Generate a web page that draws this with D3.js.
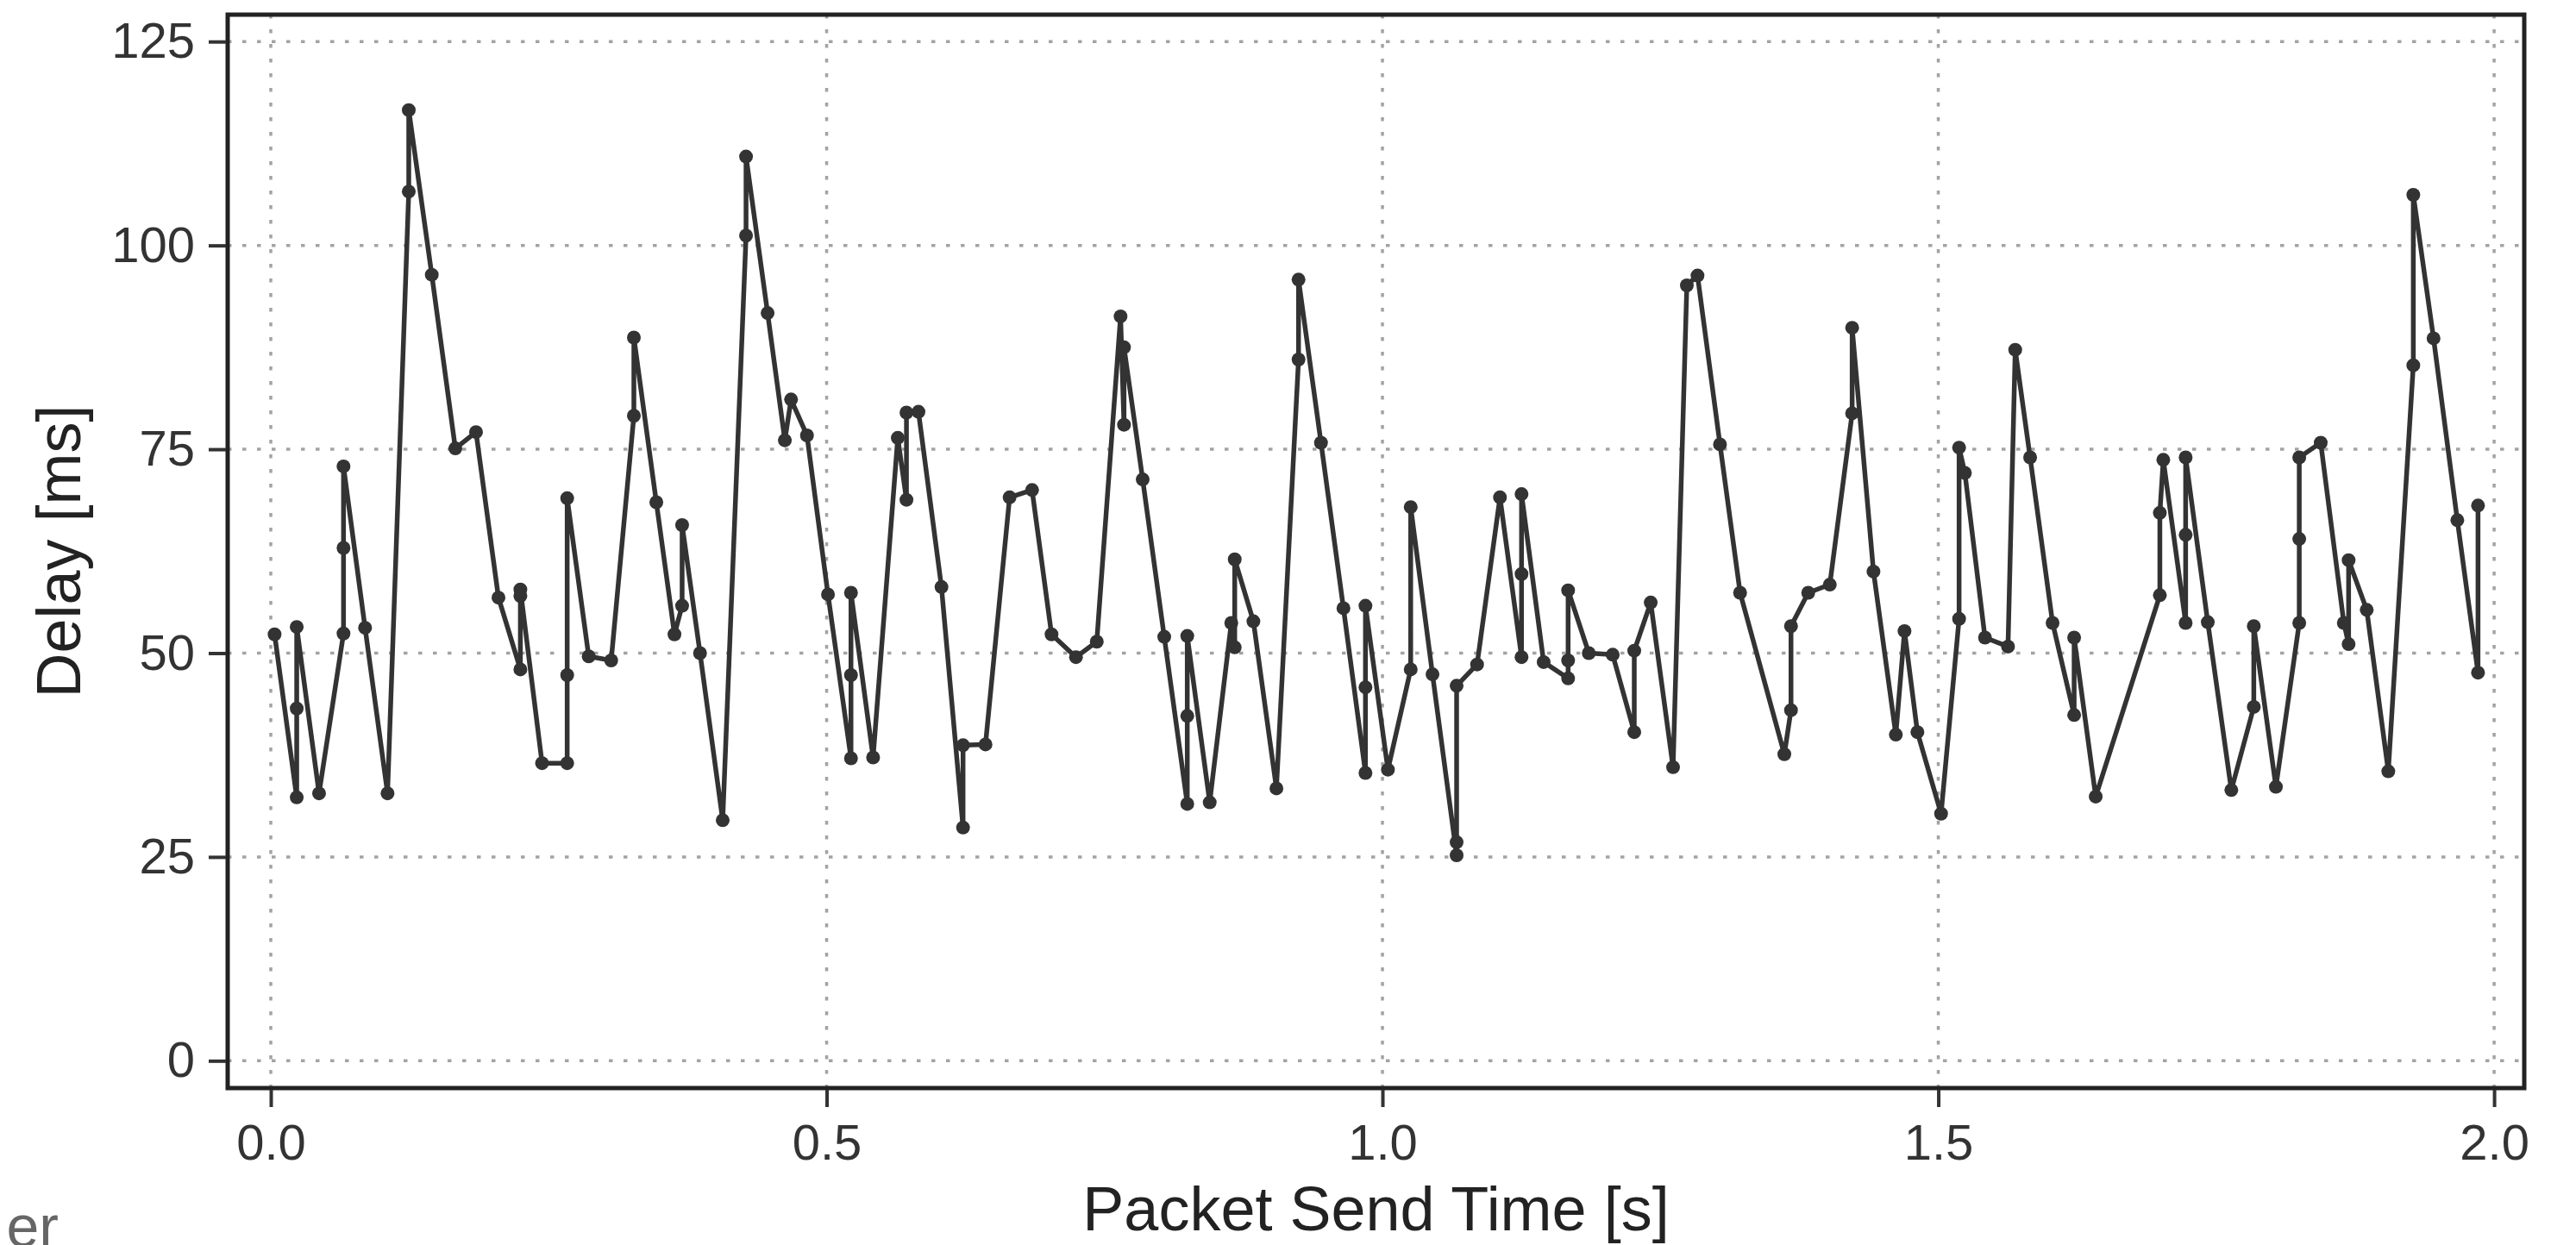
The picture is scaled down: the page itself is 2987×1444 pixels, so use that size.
<!DOCTYPE html>
<html>
<head>
<meta charset="utf-8">
<script src="https://cdn.jsdelivr.net/npm/d3@7"></script>
<style>
  body { margin: 0; background: #fff; }
  text { font-family: "Liberation Sans", Arial, Helvetica, sans-serif; }
</style>
</head>
<body>
<svg id="chart" width="2987" height="1444"></svg>
<script>
// send time of each packet [s]
var sendTime = [
  0.0034, 0.0233, 0.0233, 0.0233, 0.0434, 0.0654, 0.0654, 0.0654, 0.0848, 0.1050,
  0.1241, 0.1241, 0.1448, 0.1660, 0.1846, 0.2048, 0.2245, 0.2245, 0.2245, 0.2440,
  0.2666, 0.2666, 0.2666, 0.2860, 0.3062, 0.3266, 0.3266, 0.3468, 0.3631, 0.3700,
  0.3700, 0.3861, 0.4065, 0.4275, 0.4275, 0.4469, 0.4624, 0.4680, 0.4823, 0.5012,
  0.5219, 0.5219, 0.5219, 0.5418, 0.5640, 0.5718, 0.5718, 0.5826, 0.6033, 0.6227,
  0.6227, 0.6429, 0.6646, 0.6848, 0.7023, 0.7243, 0.7430, 0.7644, 0.7675, 0.7675,
  0.7843, 0.8037, 0.8244, 0.8244, 0.8244, 0.8446, 0.8640, 0.8671, 0.8671, 0.8839,
  0.9046, 0.9245, 0.9245, 0.9447, 0.9649, 0.9847, 0.9847, 0.9847, 1.0049, 1.0254,
  1.0254, 1.0450, 1.0667, 1.0667, 1.0667, 1.0851, 1.1057, 1.1251, 1.1251, 1.1251,
  1.1450, 1.1670, 1.1670, 1.1670, 1.1856, 1.2071, 1.2265, 1.2265, 1.2413, 1.2614,
  1.2738, 1.2834, 1.3036, 1.3217, 1.3615, 1.3675, 1.3675, 1.3830, 1.4024, 1.4225,
  1.4225, 1.4417, 1.4618, 1.4696, 1.4812, 1.5025, 1.5187, 1.5187, 1.5239, 1.5420,
  1.5627, 1.5692, 1.5826, 1.6028, 1.6222, 1.6222, 1.6416, 1.6993, 1.6993, 1.7024,
  1.7225, 1.7225, 1.7225, 1.7424, 1.7636, 1.7838, 1.7838, 1.8037, 1.8247, 1.8247,
  1.8247, 1.8440, 1.8648, 1.8691, 1.8691, 1.8854, 1.9048, 1.9273, 1.9273, 1.9455,
  1.9669, 1.9855, 1.9855
];

// measured delay [ms]
var delay = [
  52.3, 32.3, 43.2, 53.2, 32.8, 52.4, 62.9, 72.9, 53.1, 32.8,
  106.6, 116.6, 96.4, 75.1, 77.1, 56.8, 48.0, 57.0, 57.8, 36.5,
  36.5, 47.3, 69.0, 49.6, 49.1, 79.1, 88.7, 68.5, 52.3, 55.8,
  65.7, 50.0, 29.5, 101.2, 110.9, 91.7, 76.1, 81.1, 76.7, 57.2,
  37.1, 47.3, 57.4, 37.2, 76.4, 68.8, 79.5, 79.6, 58.1, 28.6,
  38.7, 38.8, 69.1, 70.0, 52.3, 49.5, 51.4, 91.3, 78.0, 87.5,
  71.3, 52.0, 31.5, 42.3, 52.1, 31.7, 53.7, 50.7, 61.5, 53.9,
  33.4, 86.0, 95.8, 75.8, 55.5, 35.3, 45.8, 55.8, 35.7, 48.0,
  67.9, 47.4, 25.2, 26.8, 46.0, 48.6, 69.1, 49.5, 59.7, 69.5,
  48.9, 46.9, 49.1, 57.7, 50.0, 49.8, 40.3, 50.3, 56.2, 36.0,
  95.1, 96.3, 75.6, 57.4, 37.6, 43.0, 53.3, 57.4, 58.4, 79.4,
  89.9, 60.0, 40.0, 52.7, 40.3, 30.3, 54.2, 75.2, 72.1, 51.9,
  50.8, 87.2, 74.0, 53.7, 42.4, 51.9, 32.4, 57.1, 67.2, 73.7,
  53.7, 64.5, 74.0, 53.8, 33.2, 43.4, 53.3, 33.6, 53.7, 64.0,
  74.0, 75.8, 53.7, 51.1, 61.4, 55.3, 35.5, 85.3, 106.2, 88.6,
  66.3, 47.6, 68.1
];

var xTicks = [0, 0.5, 1.0, 1.5, 2.0];
var yTicks = [0, 25, 50, 75, 100, 125];

var panelLeft = 264, panelRight = 2927, panelTop = 17, panelBottom = 1262;

var svg = d3.select('#chart');

var x = d3.scaleLinear().domain([-0.0388, 2.0271]).range([panelLeft, panelRight]);
var y = d3.scaleLinear().domain([-3.35, 128.3]).range([panelBottom, panelTop]);

var points = sendTime.map(function(t, i) { return { t: t, d: delay[i] }; });

// grid
var grid = svg.append('g')
    .attr('stroke', '#a3a3a3')
    .attr('stroke-width', 3.5)
    .attr('stroke-dasharray', '4.5,12.5');

grid.selectAll('line.h')
    .data(yTicks)
  .enter().append('line')
    .attr('class', 'h')
    .attr('x1', panelLeft).attr('x2', panelRight)
    .attr('y1', function(d) { return y(d); })
    .attr('y2', function(d) { return y(d); });

grid.selectAll('line.v')
    .data(xTicks)
  .enter().append('line')
    .attr('class', 'v')
    .attr('y1', panelTop).attr('y2', panelBottom)
    .attr('x1', function(d) { return x(d); })
    .attr('x2', function(d) { return x(d); });

// series
var line = d3.line()
    .x(function(p) { return x(p.t); })
    .y(function(p) { return y(p.d); });

svg.append('path')
    .datum(points)
    .attr('d', line)
    .attr('fill', 'none')
    .attr('stroke', '#333')
    .attr('stroke-width', 5.5)
    .attr('stroke-linejoin', 'round');

svg.selectAll('circle')
    .data(points)
  .enter().append('circle')
    .attr('cx', function(p) { return x(p.t); })
    .attr('cy', function(p) { return y(p.d); })
    .attr('r', 8)
    .attr('fill', '#333');

// panel border
svg.append('rect')
    .attr('x', panelLeft).attr('y', panelTop)
    .attr('width', panelRight - panelLeft).attr('height', panelBottom - panelTop)
    .attr('fill', 'none')
    .attr('stroke', '#222')
    .attr('stroke-width', 5);

// axes
var yAxis = d3.axisLeft(y)
    .tickValues(yTicks)
    .tickSize(20)
    .tickPadding(16);

var xAxis = d3.axisBottom(x)
    .tickValues(xTicks)
    .tickFormat(d3.format('.1f'))
    .tickSize(20)
    .tickPadding(20);

var gy = svg.append('g')
    .attr('transform', 'translate(' + (panelLeft - 2) + ',0)')
    .call(yAxis);

var gx = svg.append('g')
    .attr('transform', 'translate(0,' + (panelBottom + 2) + ')')
    .call(xAxis);

[gx, gy].forEach(function(g) {
  g.select('.domain').remove();
  g.selectAll('.tick line').attr('stroke', '#333').attr('stroke-width', 4);
  g.selectAll('.tick text')
      .attr('fill', '#333')
      .style('font-size', '58px')
      .style('font-family', '"Liberation Sans", Arial, sans-serif');
});

// titles
svg.append('text')
    .attr('transform', 'translate(93,' + ((panelTop + panelBottom) / 2) + ') rotate(-90)')
    .attr('text-anchor', 'middle')
    .attr('fill', '#222')
    .style('font-size', '72px')
    .text('Delay [ms]');

svg.append('text')
    .attr('x', (panelLeft + panelRight) / 2)
    .attr('y', 1427)
    .attr('text-anchor', 'middle')
    .attr('fill', '#222')
    .style('font-size', '72px')
    .text('Packet Send Time [s]');

// clipped label fragment at the lower left
svg.append('text')
    .attr('x', 68)
    .attr('y', 1446)
    .attr('text-anchor', 'end')
    .attr('fill', '#666')
    .style('font-size', '68px')
    .text('er');
</script>
</body>
</html>
